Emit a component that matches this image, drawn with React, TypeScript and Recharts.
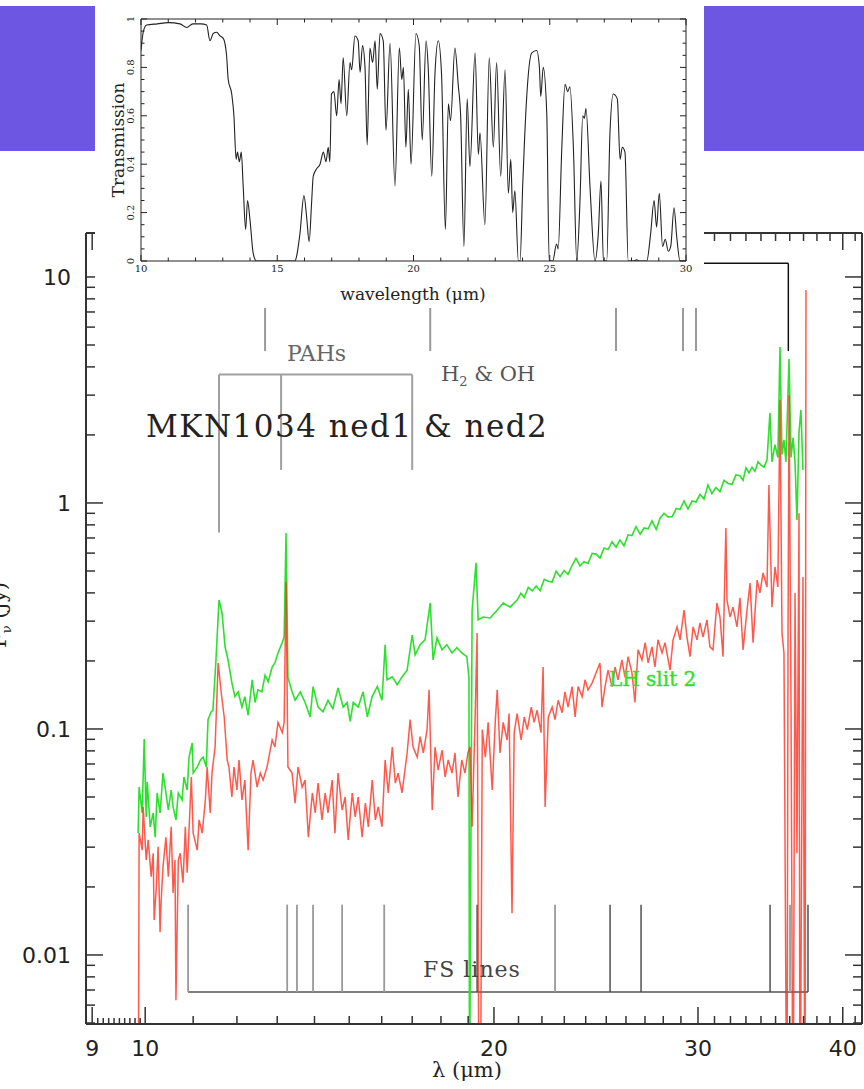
import React from "react";
import { ComposedChart, LineChart, Line, XAxis, YAxis, ReferenceLine } from "recharts";

// spectrum, LH slit 2 (green) - wavelength in micron, flux in Jy
const greenWave = [
  9.86, 9.88, 9.94, 9.98, 10.02, 10.04, 10.1, 10.16, 10.2, 10.24,
  10.3, 10.36, 10.42, 10.47, 10.53, 10.57, 10.63, 10.68, 10.76, 10.8,
  10.87, 10.91, 10.98, 11.0, 11.09, 11.16, 11.22, 11.29, 11.33, 11.4,
  11.44, 11.51, 11.58, 11.65, 11.72, 11.79, 11.88, 11.95, 12.03, 12.12,
  12.19, 12.27, 12.37, 12.44, 12.51, 12.61, 12.69, 12.77, 12.87, 12.94,
  13.02, 13.13, 13.18, 13.23, 13.28, 13.39, 13.47, 13.61, 13.74, 13.88,
  13.96, 14.1, 14.24, 14.38, 14.52, 14.67, 14.82, 14.94, 15.03, 15.12,
  15.27, 15.42, 15.55, 15.7, 15.86, 16.01, 16.11, 16.17, 16.34, 16.5,
  16.66, 16.83, 17.0, 17.1, 17.27, 17.44, 17.62, 17.72, 17.86, 18.04,
  18.21, 18.4, 18.58, 18.76, 18.95, 19.03, 19.05, 19.15, 19.3, 19.38,
  19.57, 19.85, 20.13, 20.37, 20.65, 20.94, 21.1, 21.24, 21.41, 21.58,
  21.75, 21.92, 22.1, 22.28, 22.45, 22.63, 22.81, 22.99, 23.17, 23.36,
  23.54, 23.73, 23.92, 24.11, 24.31, 24.5, 24.69, 24.89, 25.09, 25.29,
  25.49, 25.69, 25.9, 26.11, 26.31, 26.52, 26.74, 26.95, 27.17, 27.38,
  27.61, 27.82, 28.04, 28.27, 28.5, 28.73, 28.95, 29.18, 29.41, 29.65,
  29.88, 30.12, 30.36, 30.6, 30.84, 31.09, 31.34, 31.59, 31.84, 32.1,
  32.35, 32.61, 32.81, 33.0, 33.2, 33.4, 33.6, 33.8, 34.0, 34.2,
  34.41, 34.61, 34.75, 34.96, 35.16, 35.31, 35.45, 35.59, 35.73, 35.95,
  36.09, 36.24, 36.38, 36.52, 36.67, 36.81, 36.96,
];
const greenFlux = [
  0.0346, 0.0553, 0.0425, 0.0903, 0.0408, 0.0582, 0.0369, 0.0425, 0.0332, 0.0521,
  0.0425, 0.0638, 0.0521, 0.0438, 0.0537, 0.0452, 0.0396, 0.0521, 0.0485, 0.0613,
  0.0537, 0.0751, 0.0867, 0.0638, 0.0679, 0.0729, 0.0751, 0.0679, 0.11, 0.119,
  0.121, 0.202, 0.372, 0.326, 0.231, 0.202, 0.16, 0.139, 0.146, 0.125,
  0.139, 0.115, 0.165, 0.131, 0.149, 0.146, 0.173, 0.162, 0.188, 0.196,
  0.217, 0.241, 0.255, 0.736, 0.169, 0.146, 0.134, 0.146, 0.131, 0.113,
  0.154, 0.125, 0.119, 0.134, 0.123, 0.152, 0.125, 0.131, 0.108, 0.131,
  0.125, 0.146, 0.113, 0.139, 0.154, 0.134, 0.236, 0.165, 0.17, 0.157,
  0.17, 0.182, 0.26, 0.213, 0.236, 0.248, 0.361, 0.202, 0.253, 0.224,
  0.236, 0.217, 0.229, 0.217, 0.209, 0.169, 0.002, 0.336, 0.543, 0.304,
  0.313, 0.31, 0.336, 0.361, 0.346, 0.372, 0.399, 0.382, 0.423, 0.408,
  0.429, 0.409, 0.459, 0.45, 0.447, 0.499, 0.472, 0.503, 0.483, 0.53,
  0.568, 0.527, 0.55, 0.54, 0.598, 0.594, 0.571, 0.632, 0.622, 0.674,
  0.637, 0.685, 0.646, 0.723, 0.718, 0.785, 0.728, 0.775, 0.769, 0.834,
  0.764, 0.856, 0.9, 0.868, 0.87, 0.945, 0.938, 1.02, 0.941, 1.02,
  1.01, 1.09, 1.04, 1.2, 1.1, 1.17, 1.12, 1.26, 1.22, 1.21,
  1.33, 1.32, 1.26, 1.43, 1.36, 1.44, 1.38, 1.52, 1.47, 1.44,
  1.55, 2.5, 1.52, 1.81, 1.59, 4.9, 1.64, 1.9, 1.52, 4.34,
  1.59, 1.94, 1.52, 0.841, 2.06, 2.58, 1.4,
];

// second spectrum (red)
const redWave = [
  9.86, 9.88, 9.94, 9.96, 10.02, 10.06, 10.12, 10.16, 10.18, 10.22,
  10.26, 10.3, 10.32, 10.36, 10.42, 10.47, 10.53, 10.57, 10.61, 10.63,
  10.68, 10.72, 10.78, 10.83, 10.87, 10.96, 11.0, 11.09, 11.13, 11.2,
  11.27, 11.31, 11.38, 11.42, 11.49, 11.56, 11.63, 11.7, 11.77, 11.81,
  11.88, 11.93, 12.0, 12.05, 12.12, 12.19, 12.27, 12.34, 12.39, 12.49,
  12.57, 12.64, 12.74, 12.87, 12.94, 13.02, 13.13, 13.18, 13.23, 13.28,
  13.39, 13.47, 13.55, 13.66, 13.74, 13.83, 13.94, 14.02, 14.1, 14.21,
  14.3, 14.38, 14.5, 14.58, 14.67, 14.79, 14.88, 14.97, 15.09, 15.18,
  15.27, 15.39, 15.49, 15.58, 15.7, 15.8, 15.89, 16.01, 16.11, 16.21,
  16.34, 16.44, 16.53, 16.66, 16.83, 16.93, 17.03, 17.17, 17.27, 17.38,
  17.51, 17.58, 17.69, 17.79, 17.9, 18.04, 18.15, 18.26, 18.4, 18.51,
  18.62, 18.76, 18.88, 18.99, 19.07, 19.15, 19.26, 19.34, 19.42, 19.46,
  19.54, 19.66, 19.77, 19.93, 20.05, 20.13, 20.24, 20.37, 20.53, 20.61,
  20.73, 20.82, 20.94, 21.11, 21.24, 21.37, 21.54, 21.66, 21.79, 21.96,
  22.05, 22.14, 22.28, 22.45, 22.58, 22.72, 22.9, 23.03, 23.17, 23.36,
  23.5, 23.64, 23.83, 23.97, 24.11, 24.31, 24.55, 24.69, 24.79, 24.94,
  25.09, 25.29, 25.44, 25.59, 25.79, 25.95, 26.11, 26.31, 26.47, 26.63,
  26.84, 27.01, 27.17, 27.38, 27.54, 27.71, 27.93, 28.1, 28.38, 28.55,
  28.78, 28.95, 29.18, 29.35, 29.53, 29.71, 29.94, 30.12, 30.3, 30.54,
  30.72, 30.91, 31.15, 31.34, 31.53, 31.71, 31.78, 31.97, 32.16, 32.42,
  32.61, 32.81, 33.07, 33.27, 33.47, 33.74, 33.93, 34.14, 34.41, 34.54,
  34.75, 34.96, 35.16, 35.31, 35.45, 35.59, 35.8, 35.88, 35.95, 36.09,
  36.24, 36.38, 36.52, 36.67, 36.74, 36.96, 37.11, 37.18,
];
const redFlux = [
  0.001, 0.0346, 0.0291, 0.0452, 0.0263, 0.0323, 0.0222, 0.0282, 0.0143, 0.0194,
  0.0301, 0.0126, 0.017, 0.0245, 0.0332, 0.0222, 0.0369, 0.0188, 0.0263, 0.0063,
  0.0263, 0.0282, 0.0209, 0.0369, 0.0231, 0.0613, 0.0346, 0.0291, 0.0396, 0.0346,
  0.0485, 0.0679, 0.0425, 0.0638, 0.0832, 0.196, 0.145, 0.113, 0.0729, 0.0679,
  0.05, 0.0679, 0.0537, 0.0729, 0.0485, 0.0594, 0.0291, 0.0638, 0.0729, 0.0553,
  0.0638, 0.0594, 0.0679, 0.0894, 0.0832, 0.107, 0.0963, 0.107, 0.447, 0.0679,
  0.0638, 0.047, 0.0679, 0.0553, 0.0594, 0.0332, 0.0521, 0.0425, 0.0576, 0.0396,
  0.0521, 0.0425, 0.0594, 0.0346, 0.0638, 0.0438, 0.05, 0.0323, 0.0521, 0.0408,
  0.05, 0.0332, 0.047, 0.0369, 0.0594, 0.0396, 0.0452, 0.0369, 0.0729, 0.0521,
  0.0832, 0.0576, 0.0638, 0.0521, 0.0783, 0.11, 0.0832, 0.0751, 0.0925, 0.0783,
  0.0993, 0.149, 0.0438, 0.0832, 0.0658, 0.0807, 0.0613, 0.0729, 0.0638, 0.0783,
  0.05, 0.0729, 0.0638, 0.0783, 0.0832, 0.0369, 0.107, 0.266, 0.001, 0.001,
  0.0993, 0.0751, 0.107, 0.0537, 0.107, 0.149, 0.0783, 0.107, 0.0894, 0.117,
  0.0153, 0.0963, 0.117, 0.0894, 0.113, 0.0993, 0.125, 0.107, 0.121, 0.0963,
  0.188, 0.0452, 0.113, 0.125, 0.11, 0.134, 0.118, 0.146, 0.125, 0.154,
  0.113, 0.154, 0.139, 0.165, 0.149, 0.16, 0.182, 0.196, 0.125, 0.154,
  0.182, 0.154, 0.188, 0.165, 0.202, 0.169, 0.209, 0.177, 0.131, 0.224,
  0.202, 0.241, 0.196, 0.231, 0.188, 0.248, 0.217, 0.241, 0.182, 0.248,
  0.283, 0.248, 0.336, 0.255, 0.209, 0.283, 0.248, 0.295, 0.255, 0.304,
  0.231, 0.224, 0.361, 0.313, 0.209, 0.775, 0.372, 0.313, 0.346, 0.283,
  0.38, 0.224, 0.336, 0.442, 0.241, 0.456, 0.4, 0.49, 0.425, 1.2,
  0.346, 0.521, 0.425, 2.86, 0.266, 0.217, 0.001, 0.283, 3.0, 0.134,
  0.001, 0.4, 0.0282, 0.9, 0.001, 0.47, 0.001, 8.76,
];

// atmospheric transmission (inset)
const transWave = [
  10.0, 10.09, 10.21, 10.6, 11.0, 11.43, 11.68, 11.9, 12.2, 12.41,
  12.53, 12.65, 12.78, 12.9, 13.02, 13.14, 13.2, 13.33, 13.41, 13.49,
  13.54, 13.61, 13.68, 13.75, 13.84, 13.91, 14.0, 14.12, 14.24, 15.0,
  15.65, 15.71, 15.83, 15.98, 16.08, 16.17, 16.26, 16.32, 16.44, 16.57,
  16.69, 16.79, 16.87, 16.93, 16.99, 17.08, 17.18, 17.27, 17.34, 17.42,
  17.55, 17.67, 17.73, 17.85, 17.97, 18.04, 18.13, 18.22, 18.3, 18.4,
  18.5, 18.59, 18.67, 18.77, 18.89, 18.99, 19.14, 19.32, 19.48, 19.57,
  19.63, 19.72, 19.81, 19.91, 20.09, 20.21, 20.32, 20.46, 20.54, 20.67,
  20.79, 20.91, 21.03, 21.17, 21.28, 21.36, 21.52, 21.64, 21.73, 21.85,
  21.97, 22.07, 22.26, 22.38, 22.44, 22.62, 22.78, 22.93, 23.05, 23.2,
  23.36, 23.48, 23.57, 23.64, 23.72, 23.85, 23.91, 24.01, 24.15, 24.34,
  24.52, 24.62, 24.67, 24.76, 24.89, 24.98, 25.11, 25.25, 25.31, 25.44,
  25.56, 25.66, 25.74, 25.87, 25.99, 26.11, 26.21, 26.27, 26.33, 26.48,
  26.66, 26.78, 26.88, 26.97, 27.09, 27.21, 27.33, 27.48, 27.58, 27.66,
  27.76, 27.88, 28.07, 28.19, 28.3, 28.56, 28.7, 28.83, 28.92, 29.02,
  29.14, 29.24, 29.35, 29.44, 29.56, 29.66, 29.78, 30.0,
];
const transValue = [
  0.87, 0.95, 0.975, 0.98, 0.985, 0.98, 0.965, 0.98, 0.98, 0.975,
  0.91, 0.94, 0.945, 0.93, 0.92, 0.85, 0.75, 0.69, 0.6, 0.42,
  0.45, 0.41, 0.45, 0.31, 0.13, 0.25, 0.17, 0.03, 0, 0,
  0, 0.02, 0.11, 0.27, 0.18, 0.08, 0.24, 0.35, 0.38, 0.4,
  0.45, 0.41, 0.47, 0.41, 0.69, 0.7, 0.6, 0.75, 0.65, 0.84,
  0.6, 0.82, 0.79, 0.93, 0.91, 0.78, 0.89, 0.8, 0.48, 0.88,
  0.82, 0.91, 0.71, 0.94, 0.91, 0.54, 0.9, 0.31, 0.88, 0.75,
  0.8, 0.47, 0.71, 0.4, 0.94, 0.89, 0.5, 0.91, 0.8, 0.35,
  0.78, 0.91, 0.77, 0.13, 0.65, 0.58, 0.88, 0.73, 0.6, 0.06,
  0.67, 0.39, 0.86, 0.44, 0.53, 0.15, 0.84, 0.47, 0.82, 0.35,
  0.79, 0.28, 0.42, 0.2, 0.29, 0, 0, 0.32, 0.67, 0.86,
  0.87, 0.8, 0.68, 0.8, 0.61, 0, 0, 0.07, 0.05, 0.46,
  0.73, 0.7, 0.72, 0.46, 0, 0.25, 0.6, 0.59, 0.63, 0.3,
  0, 0.11, 0.33, 0, 0, 0.53, 0.69, 0.67, 0.42, 0.47,
  0.45, 0, 0, 0.005, 0, 0, 0.11, 0.25, 0.14, 0.28,
  0.06, 0.09, 0.04, 0.06, 0.22, 0.1, 0, 0,
];

// line markers
const pahWave = [11.58, 13.1, 17.0];
const pahBottom = [0.74, 1.4, 1.4];
const pahTop = 3.7;
const h2Wave = [12.69, 17.62, 25.49, 29.12, 29.88, 35.9];
const h2Top = 11.5;
const h2Bottom = 4.7;
const fsWave = [10.89, 13.26, 13.52, 13.96, 14.79, 16.08, 19.34, 22.58, 25.19, 26.79, 34.62, 36.02, 37.33];
const fsDark = [false, false, false, false, false, false, true, false, true, true, true, false, true];
const fsTop = 0.0167;
const fsBase = 0.00686;

// axes
const xDomain = [8.89, 41.56];
const yDomain = [0.00495, 15.65];
const xTicks = [
  9, 9.1, 9.2, 9.3, 9.4, 9.5, 9.6, 9.7, 9.8, 9.9, 10, 11, 12, 13, 14, 15, 16, 17, 18, 19, 20,
  21, 22, 23, 24, 25, 26, 27, 28, 29, 30, 31, 32, 33, 34, 35, 36, 37, 38, 39, 40, 41,
];
const xLabelled = [9, 10, 20, 30, 40];
const yTicks = [
  0.005, 0.006, 0.007, 0.008, 0.009, 0.01, 0.02, 0.03, 0.04, 0.05, 0.06, 0.07, 0.08, 0.09,
  0.1, 0.2, 0.3, 0.4, 0.5, 0.6, 0.7, 0.8, 0.9, 1, 2, 3, 4, 5, 6, 7, 8, 9, 10,
];
const yLabelled = [0.01, 0.1, 1, 10];
const insetXTicks = [10, 11, 12, 13, 14, 15, 16, 17, 18, 19, 20, 21, 22, 23, 24, 25, 26, 27, 28, 29, 30];
const insetXLabelled = [10, 15, 20, 25, 30];
const insetYTicks = [
  0, 0.05, 0.1, 0.15, 0.2, 0.25, 0.3, 0.35, 0.4, 0.45, 0.5, 0.55, 0.6, 0.65, 0.7, 0.75, 0.8, 0.85, 0.9, 0.95, 1,
];
const insetYLabelled = [0, 0.2, 0.4, 0.6, 0.8, 1];

const greenData = greenWave.map((w, i) => ({ w, f: greenFlux[i] }));
const redData = redWave.map((w, i) => ({ w, f: redFlux[i] }));
const transData = transWave.map((w, i) => ({ w, t: transValue[i] }));

const AX = "#333";
const SERIF = "DejaVu Serif";

function BottomTick(p: any) {
  const v = p.payload.value;
  const major = xLabelled.includes(v);
  const len = major ? 17 : Number.isInteger(v) ? 8 : 6;
  return (
    <g>
      <line x1={p.x} y1={p.y} x2={p.x} y2={p.y - len} stroke={AX} strokeWidth={1.5} />
      {major && (
        <text x={p.x} y={p.y + 32} textAnchor="middle" fontFamily="DejaVu Sans" fontSize={22} fill="#222">
          {v}
        </text>
      )}
    </g>
  );
}

function TopTick(p: any) {
  const v = p.payload.value;
  const len = xLabelled.includes(v) ? 17 : Number.isInteger(v) ? 8 : 6;
  return <line x1={p.x} y1={p.y} x2={p.x} y2={p.y + len} stroke={AX} strokeWidth={1.5} />;
}

function LeftTick(p: any) {
  const v = p.payload.value;
  const major = yLabelled.includes(v);
  return (
    <g>
      <line x1={p.x} y1={p.y} x2={p.x + (major ? 17 : 9)} y2={p.y} stroke={AX} strokeWidth={1.5} />
      {major && (
        <text x={p.x - 15} y={p.y + 8} textAnchor="end" fontFamily="DejaVu Sans" fontSize={22} fill="#222">
          {v}
        </text>
      )}
    </g>
  );
}

function RightTick(p: any) {
  const major = yLabelled.includes(p.payload.value);
  return <line x1={p.x} y1={p.y} x2={p.x - (major ? 17 : 9)} y2={p.y} stroke={AX} strokeWidth={1.5} />;
}

function InsetBottomTick(p: any) {
  const v = p.payload.value;
  const major = insetXLabelled.includes(v);
  return (
    <g>
      <line x1={p.x} y1={p.y} x2={p.x} y2={p.y - (major ? 6 : 3.5)} stroke="#222" strokeWidth={1} />
      {major && (
        <text x={p.x} y={p.y + 11} textAnchor="middle" fontFamily={SERIF} fontSize={10} fill="#222">
          {v}
        </text>
      )}
    </g>
  );
}

function InsetTopTick(p: any) {
  const major = insetXLabelled.includes(p.payload.value);
  return <line x1={p.x} y1={p.y} x2={p.x} y2={p.y + (major ? 6 : 3.5)} stroke="#222" strokeWidth={1} />;
}

function InsetLeftTick(p: any) {
  const v = p.payload.value;
  const major = insetYLabelled.includes(v);
  const lx = p.x - 7;
  return (
    <g>
      <line x1={p.x} y1={p.y} x2={p.x + (major ? 6 : 3.5)} y2={p.y} stroke="#222" strokeWidth={1} />
      {major && (
        <text
          x={lx}
          y={p.y}
          transform={`rotate(-90 ${lx} ${p.y})`}
          textAnchor="middle"
          fontFamily={SERIF}
          fontSize={10}
          fill="#222"
        >
          {v}
        </text>
      )}
    </g>
  );
}

function InsetRightTick(p: any) {
  const major = insetYLabelled.includes(p.payload.value);
  return <line x1={p.x} y1={p.y} x2={p.x - (major ? 6 : 3.5)} y2={p.y} stroke="#222" strokeWidth={1} />;
}

export default function App() {
  return (
    <div style={{ position: "absolute", left: 0, top: 0, width: 864, height: 1089, background: "#fff", overflow: "hidden" }}>
      <div style={{ position: "absolute", left: 0, top: 6, width: 864, height: 145, background: "#6c56e2" }} />

      <div style={{ position: "absolute", left: 0, top: 0 }}>
        <ComposedChart width={864} height={1089} margin={{ top: 232, right: 1, bottom: 64, left: 85 }}>
          <XAxis
            xAxisId="b"
            dataKey="w"
            type="number"
            scale="log"
            domain={xDomain}
            allowDataOverflow
            ticks={xTicks}
            interval={0}
            height={1}
            tickSize={0}
            tickMargin={0}
            tickLine={false}
            axisLine={{ stroke: AX, strokeWidth: 2 }}
            tick={(p: any) => <BottomTick {...p} />}
          />
          <XAxis
            xAxisId="t"
            orientation="top"
            dataKey="w"
            type="number"
            scale="log"
            domain={xDomain}
            allowDataOverflow
            ticks={xTicks}
            interval={0}
            height={1}
            tickSize={0}
            tickMargin={0}
            tickLine={false}
            axisLine={{ stroke: AX, strokeWidth: 2 }}
            tick={(p: any) => <TopTick {...p} />}
          />
          <YAxis
            yAxisId="l"
            type="number"
            scale="log"
            domain={yDomain}
            allowDataOverflow
            ticks={yTicks}
            interval={0}
            width={1}
            tickSize={0}
            tickMargin={0}
            tickLine={false}
            axisLine={{ stroke: AX, strokeWidth: 2 }}
            tick={(p: any) => <LeftTick {...p} />}
          />
          <YAxis
            yAxisId="r"
            orientation="right"
            type="number"
            scale="log"
            domain={yDomain}
            allowDataOverflow
            ticks={yTicks}
            interval={0}
            width={1}
            tickSize={0}
            tickMargin={0}
            tickLine={false}
            axisLine={{ stroke: AX, strokeWidth: 2 }}
            tick={(p: any) => <RightTick {...p} />}
          />

          {/* H2 & OH */}
          <ReferenceLine
            xAxisId="b"
            yAxisId="l"
            segment={[{ x: h2Wave[0], y: h2Top }, { x: h2Wave[h2Wave.length - 1], y: h2Top }]}
            stroke="#111"
            strokeWidth={1.5}
          />
          {h2Wave.map((w, i) => (
            <ReferenceLine
              key={`h2-${i}`}
              xAxisId="b"
              yAxisId="l"
              segment={[{ x: w, y: h2Top }, { x: w, y: h2Bottom }]}
              stroke={i === h2Wave.length - 1 ? "#111" : "#9a9a9a"}
              strokeWidth={i === h2Wave.length - 1 ? 1.5 : 2}
            />
          ))}

          {/* PAHs */}
          <ReferenceLine
            xAxisId="b"
            yAxisId="l"
            segment={[{ x: pahWave[0], y: pahTop }, { x: pahWave[pahWave.length - 1], y: pahTop }]}
            stroke="#a0a0a0"
            strokeWidth={2}
          />
          {pahWave.map((w, i) => (
            <ReferenceLine
              key={`pah-${i}`}
              xAxisId="b"
              yAxisId="l"
              segment={[{ x: w, y: pahTop }, { x: w, y: pahBottom[i] }]}
              stroke="#a0a0a0"
              strokeWidth={2}
            />
          ))}

          {/* FS lines */}
          <ReferenceLine
            xAxisId="b"
            yAxisId="l"
            segment={[{ x: fsWave[0], y: fsBase }, { x: fsWave[fsWave.length - 1], y: fsBase }]}
            stroke="#555"
            strokeWidth={1.5}
          />
          {fsWave.map((w, i) => (
            <ReferenceLine
              key={`fs-${i}`}
              xAxisId="b"
              yAxisId="l"
              segment={[{ x: w, y: fsTop }, { x: w, y: fsBase }]}
              stroke={fsDark[i] ? "#444" : "#999"}
              strokeWidth={fsDark[i] ? 1.4 : 1.8}
            />
          ))}

          <Line
            xAxisId="b"
            yAxisId="l"
            data={greenData}
            dataKey="f"
            type="linear"
            stroke="#2ee02e"
            strokeWidth={1.6}
            dot={false}
            isAnimationActive={false}
          />
          <Line
            xAxisId="b"
            yAxisId="l"
            data={redData}
            dataKey="f"
            type="linear"
            stroke="#ff2a1a"
            strokeOpacity={0.78}
            strokeWidth={1.5}
            dot={false}
            isAnimationActive={false}
          />
        </ComposedChart>
      </div>

      <svg width={864} height={1089} style={{ position: "absolute", left: 0, top: 0 }}>
        <text x={146} y={437} fontFamily={SERIF} fontSize={31} letterSpacing={1.5} fill="#222">
          MKN1034 ned1 &amp; ned2
        </text>
        <text x={287} y={361} fontFamily={SERIF} fontSize={22} fill="#666">
          PAHs
        </text>
        <text x={441} y={381} fontFamily={SERIF} fontSize={21} fill="#555">
          H
          <tspan dy={5} fontSize={13}>2</tspan>
          <tspan dy={-5}> &amp; OH</tspan>
        </text>
        <text x={423} y={977} fontFamily={SERIF} fontSize={22} letterSpacing={1} fill="#444">
          FS lines
        </text>
        <text x={609} y={686} fontFamily={SERIF} fontSize={20} fill="#2ee02e" stroke="#2ee02e" strokeWidth={0.4}>
          LH slit 2
        </text>
        <text x={432} y={1077} fontFamily={SERIF} fontSize={21} fill="#222">
          λ (μm)
        </text>
        <text x={6} y={615} transform="rotate(-90 6 615)" textAnchor="middle" fontFamily={SERIF} fontSize={21} fill="#222">
          F
          <tspan dy={5} fontSize={13}>ν</tspan>
          <tspan dy={-5}> (Jy)</tspan>
        </text>
      </svg>

      <div style={{ position: "absolute", left: 95, top: 0, width: 609, height: 308, background: "#fff" }}>
        <LineChart width={609} height={308} data={transData} margin={{ top: 18, right: 17, bottom: 46, left: 45 }}>
          <XAxis
            xAxisId="b"
            dataKey="w"
            type="number"
            domain={[10, 30]}
            allowDataOverflow
            ticks={insetXTicks}
            interval={0}
            height={1}
            tickSize={0}
            tickMargin={0}
            tickLine={false}
            axisLine={{ stroke: "#222", strokeWidth: 1 }}
            tick={(p: any) => <InsetBottomTick {...p} />}
          />
          <XAxis
            xAxisId="t"
            orientation="top"
            dataKey="w"
            type="number"
            domain={[10, 30]}
            allowDataOverflow
            ticks={insetXTicks}
            interval={0}
            height={1}
            tickSize={0}
            tickMargin={0}
            tickLine={false}
            axisLine={{ stroke: "#222", strokeWidth: 1 }}
            tick={(p: any) => <InsetTopTick {...p} />}
          />
          <YAxis
            yAxisId="l"
            type="number"
            domain={[0, 1]}
            allowDataOverflow
            ticks={insetYTicks}
            interval={0}
            width={1}
            tickSize={0}
            tickMargin={0}
            tickLine={false}
            axisLine={{ stroke: "#222", strokeWidth: 1 }}
            tick={(p: any) => <InsetLeftTick {...p} />}
          />
          <YAxis
            yAxisId="r"
            orientation="right"
            type="number"
            domain={[0, 1]}
            allowDataOverflow
            ticks={insetYTicks}
            interval={0}
            width={1}
            tickSize={0}
            tickMargin={0}
            tickLine={false}
            axisLine={{ stroke: "#222", strokeWidth: 1 }}
            tick={(p: any) => <InsetRightTick {...p} />}
          />
          <Line
            xAxisId="b"
            yAxisId="l"
            dataKey="t"
            type="monotone"
            stroke="#222"
            strokeWidth={1.1}
            dot={false}
            isAnimationActive={false}
          />
        </LineChart>
        <svg width={609} height={308} style={{ position: "absolute", left: 0, top: 0 }}>
          <text
            x={29}
            y={140}
            transform="rotate(-90 29 140)"
            textAnchor="middle"
            fontFamily={SERIF}
            fontSize={17}
            fill="#222"
          >
            Transmission
          </text>
          <text x={318} y={300} textAnchor="middle" fontFamily={SERIF} fontSize={17} fill="#222">
            wavelength (μm)
          </text>
        </svg>
      </div>
    </div>
  );
}
